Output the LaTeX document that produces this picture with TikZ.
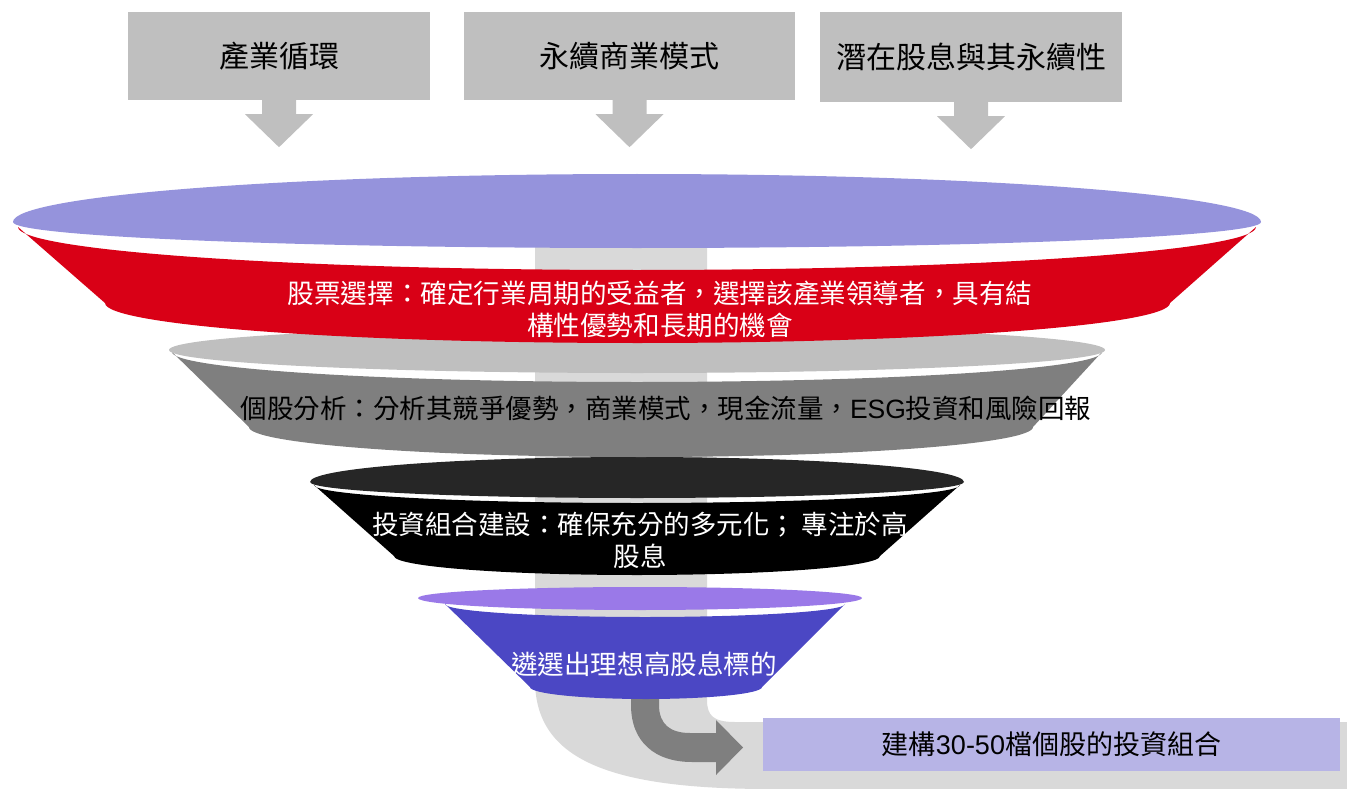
\documentclass[tikz,border=0pt]{standalone}
\usepackage{fontspec}
\setmainfont{Noto Sans CJK TC}
\newfontfamily\latin{Liberation Sans}
\usetikzlibrary{calc}

\definecolor{lav}{HTML}{9593DC}
\definecolor{redb}{HTML}{D90016}
\definecolor{lgray}{HTML}{BFBFBF}
\definecolor{dgray}{HTML}{7F7F7F}
\definecolor{blk1}{HTML}{262626}
\definecolor{purp1}{HTML}{9A79E8}
\definecolor{purp2}{HTML}{4B47C4}
\definecolor{pipegray}{HTML}{D9D9D9}
\definecolor{boxblue}{HTML}{B7B4E6}

% lower half ellipse, left to right
\newcommand\lowarc[4]{.. controls ({#1-#3},{#2+0.5523*#4}) and ({#1-0.5523*#3},{#2+#4}) .. ({#1},{#2+#4}) .. controls ({#1+0.5523*#3},{#2+#4}) and ({#1+#3},{#2+0.5523*#4}) .. ({#1+#3},{#2})}
% lower half ellipse, right to left
\newcommand\lowarcrev[4]{.. controls ({#1+#3},{#2+0.5523*#4}) and ({#1+0.5523*#3},{#2+#4}) .. ({#1},{#2+#4}) .. controls ({#1-0.5523*#3},{#2+#4}) and ({#1-#3},{#2+0.5523*#4}) .. ({#1-#3},{#2})}
% upper half ellipse, right to left
\newcommand\uparc[4]{.. controls ({#1+#3},{#2-0.5523*#4}) and ({#1+0.5523*#3},{#2-#4}) .. ({#1},{#2-#4}) .. controls ({#1-0.5523*#3},{#2-#4}) and ({#1-#3},{#2-0.5523*#4}) .. ({#1-#3},{#2})}
% funnel rim: cx cy rx ry-up ry-low colour
\newcommand\felli[6]{\fill[#6] ({#1-#3},{#2}) \lowarc{#1}{#2}{#3}{#5} \uparc{#1}{#2}{#3}{#4} -- cycle;}
% funnel body: top arc (cx cy rx ry), bottom arc (cx cy rx ry), colour
\newcommand\fbody[9]{\fill[#9] ({#1-#3},{#2}) -- ({#5-#7},{#6}) \lowarc{#5}{#6}{#7}{#8} -- ({#1+#3},{#2}) \lowarcrev{#1}{#2}{#3}{#4} -- cycle;}

\begin{document}
\begin{tikzpicture}[x=1pt,y=-1pt,
  lbl/.style={font=\fontsize{26.6}{32}\selectfont, align=center, inner sep=0pt},
  topbox/.style={fill=lgray, inner sep=0pt, font=\fontsize{30}{36}\selectfont},
  blockarrow/.style={fill=lgray},
]
\useasboundingbox (0,0) rectangle (1347,789);
\clip (0,0) rectangle (1347,789);

% background pipe
\fill[pipegray] (535,240) -- (707,240) -- (707,700)
  .. controls (707,716) and (714,722) .. (735,722) -- (1347,722) -- (1347,789) -- (770,789)
  .. controls (610,789) and (535,760) .. (535,680) -- cycle;

% curved gray arrow
\fill[dgray] (631,690) -- (659,690) -- (659,705)
  .. controls (659,724) and (670,733) .. (690,733) -- (716,733) -- (716,720) -- (743,747.5)
  -- (716,775) -- (716,762) -- (692,762)
  .. controls (655,762) and (631,742) .. (631,705) -- cycle;

% section 4 (purple)
\fbody{645}{604}{200}{13}{646}{687}{116}{12}{purp2}
\felli{640}{598}{222}{11}{12}{purp1}
% section 3 (black)
\fbody{637}{485}{323}{18}{637}{556}{243}{19}{black}
\felli{637}{482}{327}{25}{16}{blk1}
% section 2 (gray)
\fbody{637}{352}{465}{30}{641}{427}{392}{30}{dgray}
\felli{637}{350}{468}{24}{23}{lgray}
% section 1 (red)
\fbody{637}{227}{619}{43}{637.5}{303}{532.5}{40}{redb}
\felli{637}{222}{624}{48}{26}{lav}

% funnel texts
\node[lbl, text=white] (t1) at (660,309) {股票選擇：確定行業周期的受益者，選擇該產業領導者，具有結\\構性優勢和長期的機會};
\node[lbl, font=\fontsize{26.5}{32}\selectfont] (t2) at (666,408) {個股分析：分析其競爭優勢，商業模式，現金流量，{\latin ESG}投資和風險回報};
\node[lbl, text=white, font=\fontsize{26.5}{32}\selectfont] (t3) at (640,540) {投資組合建設：確保充分的多元化； 專注於高\\股息};
\node[lbl, text=white] (t4) at (644,664) {遴選出理想高股息標的};

% top boxes
\node[topbox, minimum width=302pt, minimum height=88pt] (b1) at (279,56) {產業循環};
\node[topbox, minimum width=331pt, minimum height=88pt] (b2) at (629.5,56) {永續商業模式};
\node[topbox, minimum width=302pt, minimum height=90pt] (b3) at (971,57) {潛在股息與其永續性};

\foreach \b in {b1,b2,b3}{
  \fill[blockarrow] ($(\b.south)+(-17,0)$) -- ($(\b.south)+(17,0)$) -- ($(\b.south)+(17,14)$)
    -- ($(\b.south)+(34,14)$) -- ($(\b.south)+(0,47)$) -- ($(\b.south)+(-34,14)$)
    -- ($(\b.south)+(-17,14)$) -- cycle;
}

% result box
\node[fill=boxblue, minimum width=577pt, minimum height=53pt, inner sep=0pt,
  font=\fontsize{27}{32}\selectfont] (b4) at (1051.5,744.5) {建構{\latin 30-50}檔個股的投資組合};
\end{tikzpicture}
\end{document}
